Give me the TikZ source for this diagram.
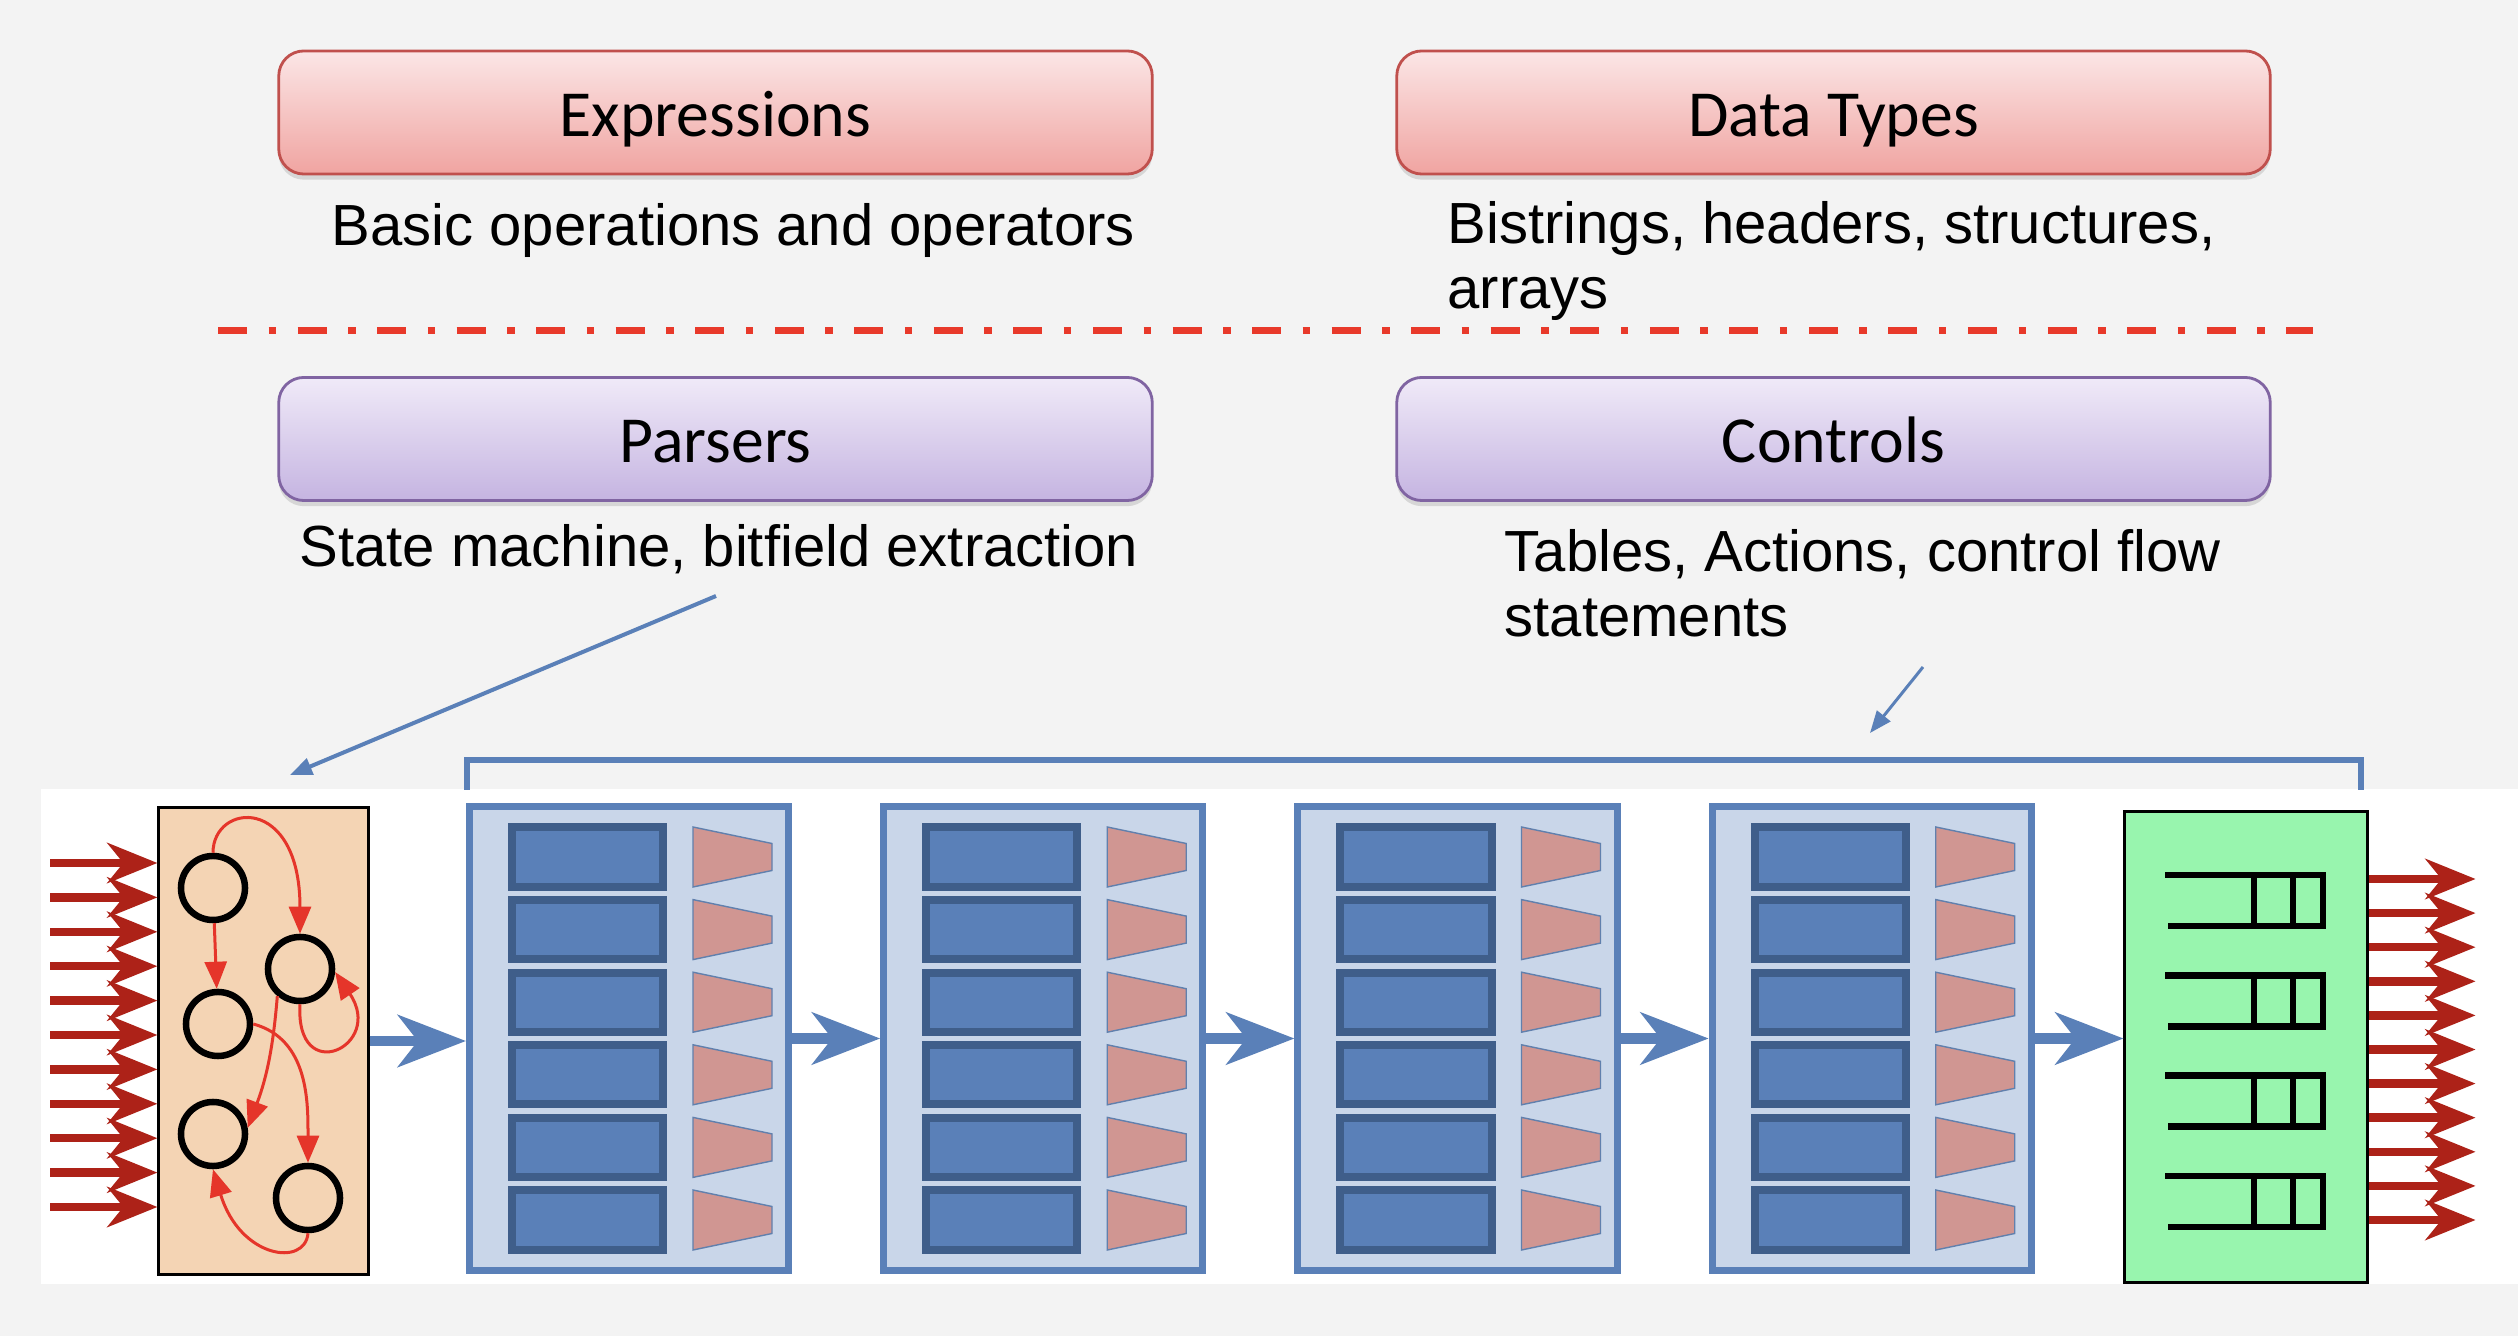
\documentclass[tikz,border=0pt]{standalone}
\usepackage{fontspec}
\setmainfont{Liberation Sans}
\newfontfamily\calibri{Carlito}
\usepackage{xcolor}
\usepackage{tikz}
\usetikzlibrary{arrows}
\usetikzlibrary{arrows.meta}
\usetikzlibrary{positioning}
\usetikzlibrary{shadows}

\definecolor{pinkline}{HTML}{C0504D}
\definecolor{pinktop}{HTML}{FBE6E6}
\definecolor{pinkbot}{HTML}{F0A4A1}
\definecolor{lilacline}{HTML}{8064A2}
\definecolor{lilactop}{HTML}{F0EAF8}
\definecolor{lilacbot}{HTML}{C5B4E1}
\definecolor{dashred}{HTML}{E8392A}
\definecolor{pipeblue}{HTML}{5A80B8}
\definecolor{stagefill}{HTML}{C9D6E9}
\definecolor{tabledark}{HTML}{3F5E8A}
\definecolor{actionpink}{HTML}{D09692}
\definecolor{peach}{HTML}{F4D4B4}
\definecolor{mint}{HTML}{98F5AE}
\definecolor{portred}{HTML}{AD2218}
\definecolor{edgered}{HTML}{E5352A}
\definecolor{backgray}{HTML}{F3F3F3}

\tikzset{
  titlebox/.style={rounded corners=0.25cm, line width=0.8pt, minimum width=8.73cm, minimum height=1.23cm,
    font=\calibri\fontsize{18.7}{21}\selectfont, text height=13.4pt, text depth=0pt,
    drop shadow={shadow xshift=0pt, shadow yshift=-1.6pt, opacity=0.25}},
  pinkbox/.style={titlebox, draw=pinkline, top color=pinktop, bottom color=pinkbot},
  lilacbox/.style={titlebox, draw=lilacline, top color=lilactop, bottom color=lilacbot},
  desc/.style={font=\fontsize{16.5}{18.6}\selectfont, align=left, anchor=base west, inner sep=0pt},
  dividerline/.style={draw=dashred, line width=0.07cm, dash pattern=on 0.29cm off 0.215cm on 0.075cm off 0.215cm},
  parserbox/.style={draw, fill=peach, line width=0.03cm, minimum width=2.09cm, minimum height=4.66cm},
  stage/.style={draw=pipeblue, fill=stagefill, line width=0.07cm, minimum width=3.19cm, minimum height=4.64cm},
  tablecell/.style={draw=tabledark, fill=pipeblue, line width=0.08cm, minimum width=1.51cm, minimum height=0.59cm, inner sep=0pt},
  actioncell/.style={draw=pipeblue!80!gray, fill=actionpink, line width=0.4pt},
  deparser/.style={draw, fill=mint, line width=0.03cm, minimum width=2.42cm, minimum height=4.70cm},
  queuebar/.style={line width=0.065cm},
  statenode/.style={circle, draw, line width=0.065cm, minimum size=0.64cm, inner sep=0pt},
  transition/.style={draw=edgered, line width=0.03cm, -{Triangle[length=0.27cm,width=0.22cm]}},
  portarrow/.style={draw=portred, line width=0.085cm, -{Stealth[length=0.5cm,width=0.4cm,inset=0.16cm]}},
  pipearrow/.style={draw=pipeblue, line width=0.1cm, -{Stealth[length=0.68cm,width=0.52cm,inset=0.2cm]}},
  notearrow/.style={draw=pipeblue, line width=0.04cm, -{Triangle[length=0.22cm,width=0.17cm]}},
  stagebracket/.style={draw=pipeblue, line width=0.06cm}
}

\begin{document}
\begin{tikzpicture}[x=0.01cm, y=0.01cm, node distance=4.14cm]
  \useasboundingbox (0,0) rectangle (2518,1336);
  \fill[backgray] (0,0) rectangle (2518,1336);
  \fill[white] (41,52) rectangle (2518,547);

  % language parts
  \node[pinkbox] (Expressions) at (715.5,1223.5) {Expressions};
  \node[pinkbox] (DataTypes) at (1833.5,1223.5) {Data Types};
  \node[desc] (ExprText) at (331,1090) {Basic operations and operators};
  \node[desc] (TypesText) at (1447,1027) {Bistrings, headers, structures,\\arrays};
  \draw[dividerline] (218,1005) -- (2313,1005);
  \node[lilacbox] (Parsers) at (715.5,897) {Parsers};
  \node[lilacbox] (Controls) at (1833.5,897) {Controls};
  \node[desc] (ParsersText) at (299,769) {State machine, bitfield extraction};
  \node[desc] (ControlsText) at (1504,699) {Tables, Actions, control flow\\statements};

  % pipeline
  \node[parserbox] (Parser) at (263.5,295) {};
  \node[stage] (Stage1) at (629,297.5) {};
  \node[stage, right of=Stage1] (Stage2) {};
  \node[stage, right of=Stage2] (Stage3) {};
  \node[stage, right of=Stage3] (Stage4) {};
  \node[deparser] (Deparser) at (2246,289) {};

  \foreach \s in {1,...,4}{
    \foreach \k in {0,...,5}{
      \node[tablecell] (T\s\k) at ([shift={(-41.5,181.5-72.6*\k)}]Stage\s.center) {};
      \draw[actioncell] ([shift={(64,211.5-72.6*\k)}]Stage\s.center) -- ++(79,-16.5) -- ++(0,-27) -- ++(-79,-16.5) -- cycle;
    }
  }

  \draw[pipearrow] (Parser.east) -- (Parser.east -| Stage1.west);
  \draw[pipearrow] (Stage1.east) -- (Stage2.west);
  \draw[pipearrow] (Stage2.east) -- (Stage3.west);
  \draw[pipearrow] (Stage3.east) -- (Stage4.west);
  \draw[pipearrow] (Stage4.east) -- (Stage4.east -| Deparser.west);

  % parse graph
  \node[statenode] (S1) at (213,448) {};
  \node[statenode] (S2) at (300,367) {};
  \node[statenode] (S3) at (218,312) {};
  \node[statenode] (S4) at (213,202) {};
  \node[statenode] (S5) at (308,138) {};
  \draw[transition] (S1.north) .. controls +(0,50) and +(0,140) .. (S2.north);
  \draw[transition] (S1) -- (S3);
  \draw[transition] (S2.230) to[bend left=8] (S4.10);
  \draw[transition] (S3.east) to[out=-15,in=90] (S5.north);
  \draw[transition] (S2.south) .. controls +(-5,-84) and +(50,-74) .. (S2.-5);
  \draw[transition] (S5.south) .. controls +(-3,-34) and +(27,-89) .. (S4.south);

  \foreach \k in {0,...,10}
    \draw[portarrow] ([shift={(-107,178-34.4*\k)}]Parser.west) -- ([shift={(0,178-34.4*\k)}]Parser.west);
  \foreach \k in {0,...,10}
    \draw[portarrow] ([shift={(0,168-34.1*\k)}]Deparser.east) -- ([shift={(107,168-34.1*\k)}]Deparser.east);

  % output queues
  \foreach \k in {0,...,3}{
    \draw[queuebar] ([shift={(-81,172-100.3*\k)}]Deparser.center) -- ++(158,0) -- ++(0,-51) -- ++(-155,0);
    \draw[queuebar] ([shift={(8,172-100.3*\k)}]Deparser.center) -- ++(0,-51) ++(39,51) -- ++(0,-51);
  }

  \coordinate (BracketL) at (467,546);
  \coordinate (BracketR) at (2361,546);
  \draw[stagebracket] (BracketL) -- ++(0,30) -| (BracketR);

  \coordinate (ParserTail) at (716,740);
  \coordinate (ParserHead) at (290,561);
  \draw[notearrow] (ParserTail) -- (ParserHead);
  \coordinate (ControlsTail) at (1923,669);
  \coordinate (ControlsHead) at (1870,603);
  \draw[notearrow, line width=0.03cm] (ControlsTail) -- (ControlsHead);
\end{tikzpicture}
\end{document}
